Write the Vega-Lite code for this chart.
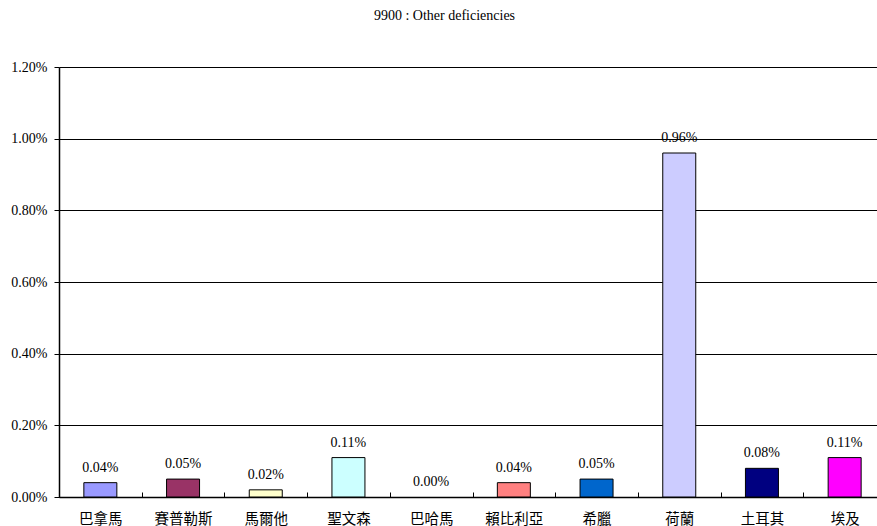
{
  "$schema": "https://vega.github.io/schema/vega-lite/v6.json",
  "autosize": "none",
  "padding": {"left": 59, "top": 67, "right": 0, "bottom": 29},
  "width": 827,
  "height": 430,
  "background": "white",
  "title": {"text": "9900 : Other deficiencies", "font": "Liberation Serif, serif", "fontSize": 14, "fontWeight": "normal", "color": "#000000", "offset": 37, "dx": -28},
  "data": {"values": [
    {"country": "巴拿馬", "value": 0.0004, "color": "#9999FF"},
    {"country": "賽普勒斯", "value": 0.0005, "color": "#993366"},
    {"country": "馬爾他", "value": 0.0002, "color": "#FFFFCC"},
    {"country": "聖文森", "value": 0.0011, "color": "#CCFFFF"},
    {"country": "巴哈馬", "value": 0.0, "color": "#660066"},
    {"country": "賴比利亞", "value": 0.0004, "color": "#FF8080"},
    {"country": "希臘", "value": 0.0005, "color": "#0066CC"},
    {"country": "荷蘭", "value": 0.0096, "color": "#CCCCFF"},
    {"country": "土耳其", "value": 0.0008, "color": "#000080"},
    {"country": "埃及", "value": 0.0011, "color": "#FF00FF"}
  ]},
  "config": {"view": {"stroke": null}},
  "encoding": {
    "x": {"field": "country", "type": "nominal", "sort": null,
      "scale": {"paddingInner": 0, "paddingOuter": 0},
      "axis": {"title": null, "labelAngle": 0, "labelFont": "Noto Sans CJK TC", "labelFontSize": 14.5, "labelFontWeight": "normal", "labelColor": "#000000", "labelPadding": 20,
        "domainColor": "#000000", "domainWidth": 1.5, "tickColor": "#000000", "tickSize": -5, "tickBand": "extent", "grid": false}},
    "y": {"field": "value", "type": "quantitative",
      "scale": {"domain": [0, 0.012], "nice": false},
      "axis": {"title": null, "format": ".2%", "values": [0, 0.002, 0.004, 0.006, 0.008, 0.01, 0.012],
        "labelFont": "Liberation Serif, serif", "labelFontSize": 14, "labelColor": "#000000", "labelPadding": 7,
        "domainColor": "#000000", "domainWidth": 1.5, "tickColor": "#000000", "tickSize": 5,
        "grid": true, "gridColor": "#000000", "gridWidth": 1}}
  },
  "layer": [
    {"mark": {"type": "bar", "size": 33, "stroke": "#000000", "strokeWidth": 1},
     "encoding": {
       "color": {"field": "color", "type": "nominal", "scale": null},
       "strokeOpacity": {"condition": {"test": "datum.value == 0", "value": 0}, "value": 1}
     }},
    {"mark": {"type": "text", "dy": -15, "font": "Liberation Serif, serif", "fontSize": 14, "color": "#000000"},
     "encoding": {"text": {"field": "value", "type": "quantitative", "format": ".2%"}}}
  ]
}
